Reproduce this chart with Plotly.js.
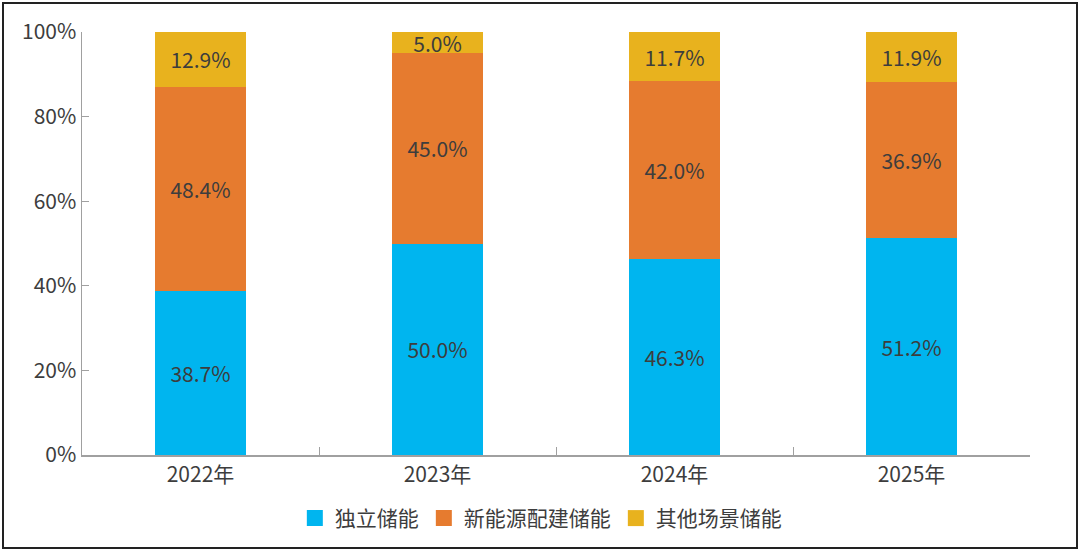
<!DOCTYPE html>
<html>
<head>
<meta charset="utf-8">
<script src="https://cdn.plot.ly/plotly-3.0.1.min.js"></script>
<style>
  body { margin: 0; background: #fff; }
  #chart { width: 1080px; height: 551px; }
  #frame { position: absolute; left: 2px; top: 2px; width: 1072px; height: 543px; border: 2px solid #222; pointer-events: none; }
</style>
</head>
<body>
<div id="chart"></div>
<div id="frame"></div>
<script>
const years = ['2022年', '2023年', '2024年', '2025年'];
const standalone = [38.7, 50.0, 46.3, 51.2];
const renewablePaired = [48.4, 45.0, 42.0, 36.9];
const otherScenes = [12.9, 5.0, 11.7, 11.9];

const seriesNames = ['独立储能', '新能源配建储能', '其他场景储能'];
const seriesColors = ['#00B5EF', '#E67B2F', '#E8B21E'];
const seriesValues = [standalone, renewablePaired, otherScenes];

const textColor = '#3d3d3d';
const fontFamily = '"Noto Sans CJK SC", "Noto Sans", sans-serif';

const bars = seriesValues.map(function (vals, i) {
  return {
    type: 'bar',
    name: seriesNames[i],
    x: years,
    y: vals,
    marker: { color: seriesColors[i] },
    text: vals.map(v => v.toFixed(1) + '%'),
    textposition: 'inside',
    insidetextanchor: 'middle',
    constraintext: 'none',
    textangle: 0,
    textfont: { color: textColor, size: 21, family: fontFamily },
    showlegend: false,
    hoverinfo: 'x+y+name'
  };
});

// legend entries with bigger square swatches
const legendKeys = seriesNames.map(function (name, i) {
  return {
    type: 'scatter',
    mode: 'markers',
    name: name,
    x: [null],
    y: [null],
    marker: { symbol: 'square', size: 17, color: seriesColors[i] },
    showlegend: true
  };
});

const layout = {
  width: 1080,
  height: 551,
  barmode: 'stack',
  bargap: 0.62,
  paper_bgcolor: '#ffffff',
  plot_bgcolor: '#ffffff',
  font: { family: fontFamily, color: textColor, size: 21 },
  margin: { l: 82, r: 50, t: 32, b: 96 },
  xaxis: {
    showline: true,
    linecolor: '#a0a0a0',
    linewidth: 1.5,
    ticks: 'inside',
    tickson: 'boundaries',
    ticklen: 8,
    tickcolor: '#a0a0a0',
    tickfont: { size: 21, color: textColor },
    showgrid: false,
    zeroline: false
  },
  yaxis: {
    range: [0, 100],
    dtick: 20,
    ticksuffix: '%',
    showline: true,
    linecolor: '#a0a0a0',
    linewidth: 1.5,
    ticks: 'inside',
    ticklen: 7,
    tickcolor: '#a0a0a0',
    tickfont: { size: 21, color: textColor },
    showgrid: false,
    zeroline: false
  },
  legend: {
    orientation: 'h',
    x: 0.484,
    xanchor: 'center',
    y: -0.15,
    yanchor: 'middle',
    font: { size: 21, color: textColor },
    traceorder: 'normal',
    itemwidth: 30
  },
  showlegend: true
};

Plotly.newPlot('chart', bars.concat(legendKeys), layout, { displayModeBar: false, staticPlot: true });
</script>
</body>
</html>
